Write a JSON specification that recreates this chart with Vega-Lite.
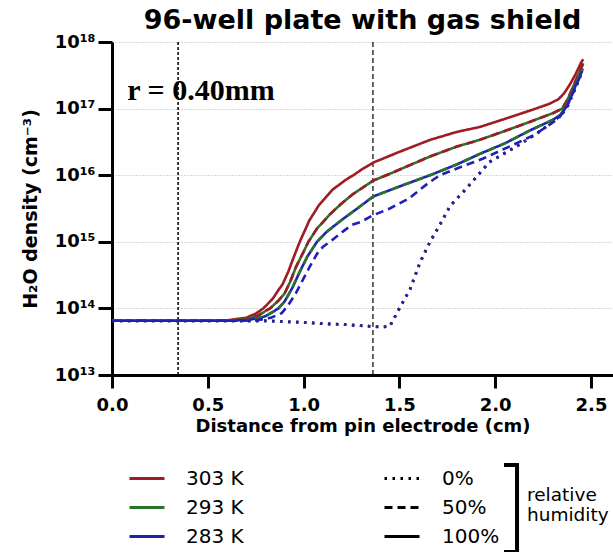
{
"$schema": "https://vega.github.io/schema/vega-lite/v6.json",
"width": 501,
"height": 333,
"autosize": {"type": "none"},
"padding": {"left": 112, "top": 42, "right": 0, "bottom": 177},
"background": "white",
"title": {"text": "96-well plate with gas shield", "font": "DejaVu Sans", "fontSize": 27, "fontWeight": "bold", "color": "black", "anchor": "middle", "baseline": "alphabetic", "offset": 13, "dy": 36},
"config": {
  "view": {"stroke": null},
  "legend": {"labelFont": "DejaVu Sans", "labelFontSize": 20, "labelColor": "black", "padding": 0, "titlePadding": 0}
},
"layer": [
  {"data": {"values": [{}]}, "mark": {"type": "rule", "color": "black", "strokeWidth": 1.5, "strokeDash": [3, 2]}, "encoding": {"x": {"datum": 0.345, "type": "quantitative"}}},
  {"data": {"values": [{}]}, "mark": {"type": "rule", "color": "black", "strokeWidth": 1.2, "strokeDash": [5, 3]}, "encoding": {"x": {"datum": 1.362, "type": "quantitative"}}},
  {"data": {"values": [{}]}, "mark": {"type": "text", "text": "r = 0.40mm", "font": "Liberation Serif", "fontSize": 30, "fontWeight": "bold", "align": "left", "baseline": "alphabetic", "color": "black"}, "encoding": {"x": {"datum": 0.08, "type": "quantitative"}, "y": {"datum": 1.35e17, "type": "quantitative"}}},
  {
    "data": {"values": [
{"d":0,"n":6.53e13,"T":"303 K","rh":"100%"},{"d":0.5,"n":6.53e13,"T":"303 K","rh":"100%"},{"d":0.6,"n":6.61e13,"T":"303 K","rh":"100%"},{"d":0.7,"n":7.24e13,"T":"303 K","rh":"100%"},{"d":0.75,"n":8.32e13,"T":"303 K","rh":"100%"},{"d":0.79,"n":1.0e14,"T":"303 K","rh":"100%"},{"d":0.84,"n":1.41e14,"T":"303 K","rh":"100%"},{"d":0.87,"n":1.91e14,"T":"303 K","rh":"100%"},{"d":0.89,"n":2.29e14,"T":"303 K","rh":"100%"},{"d":0.92,"n":3.55e14,"T":"303 K","rh":"100%"},{"d":0.95,"n":6.03e14,"T":"303 K","rh":"100%"},{"d":0.98,"n":1.0e15,"T":"303 K","rh":"100%"},{"d":1.03,"n":2.09e15,"T":"303 K","rh":"100%"},{"d":1.08,"n":3.55e15,"T":"303 K","rh":"100%"},{"d":1.15,"n":6.03e15,"T":"303 K","rh":"100%"},{"d":1.22,"n":8.51e15,"T":"303 K","rh":"100%"},{"d":1.26,"n":1.0e16,"T":"303 K","rh":"100%"},{"d":1.3,"n":1.2e16,"T":"303 K","rh":"100%"},{"d":1.364,"n":1.55e16,"T":"303 K","rh":"100%"},{"d":1.5,"n":2.24e16,"T":"303 K","rh":"100%"},{"d":1.66,"n":3.39e16,"T":"303 K","rh":"100%"},{"d":1.8,"n":4.47e16,"T":"303 K","rh":"100%"},{"d":1.92,"n":5.3e16,"T":"303 K","rh":"100%"},{"d":2.05,"n":7.0e16,"T":"303 K","rh":"100%"},{"d":2.18,"n":9.3e16,"T":"303 K","rh":"100%"},{"d":2.28,"n":1.17e17,"T":"303 K","rh":"100%"},{"d":2.33,"n":1.38e17,"T":"303 K","rh":"100%"},{"d":2.36,"n":1.7e17,"T":"303 K","rh":"100%"},{"d":2.39,"n":2.3e17,"T":"303 K","rh":"100%"},{"d":2.42,"n":3.3e17,"T":"303 K","rh":"100%"},{"d":2.45,"n":5.01e17,"T":"303 K","rh":"100%"},{"d":2.46,"n":5.5e17,"T":"303 K","rh":"100%"},
{"d":0,"n":6.53e13,"T":"293 K","rh":"100%"},{"d":0.6,"n":6.53e13,"T":"293 K","rh":"100%"},{"d":0.7,"n":6.92e13,"T":"293 K","rh":"100%"},{"d":0.76,"n":7.76e13,"T":"293 K","rh":"100%"},{"d":0.825,"n":1.0e14,"T":"293 K","rh":"100%"},{"d":0.87,"n":1.32e14,"T":"293 K","rh":"100%"},{"d":0.9,"n":1.66e14,"T":"293 K","rh":"100%"},{"d":0.93,"n":2.51e14,"T":"293 K","rh":"100%"},{"d":0.96,"n":4.17e14,"T":"293 K","rh":"100%"},{"d":1.0,"n":7.08e14,"T":"293 K","rh":"100%"},{"d":1.025,"n":1.0e15,"T":"293 K","rh":"100%"},{"d":1.07,"n":1.58e15,"T":"293 K","rh":"100%"},{"d":1.14,"n":2.63e15,"T":"293 K","rh":"100%"},{"d":1.2,"n":3.8e15,"T":"293 K","rh":"100%"},{"d":1.26,"n":5.25e15,"T":"293 K","rh":"100%"},{"d":1.364,"n":8.32e15,"T":"293 K","rh":"100%"},{"d":1.45,"n":1.05e16,"T":"293 K","rh":"100%"},{"d":1.66,"n":1.91e16,"T":"293 K","rh":"100%"},{"d":1.8,"n":2.69e16,"T":"293 K","rh":"100%"},{"d":1.92,"n":3.4e16,"T":"293 K","rh":"100%"},{"d":2.05,"n":4.6e16,"T":"293 K","rh":"100%"},{"d":2.18,"n":6.31e16,"T":"293 K","rh":"100%"},{"d":2.3,"n":8.51e16,"T":"293 K","rh":"100%"},{"d":2.35,"n":1.0e17,"T":"293 K","rh":"100%"},{"d":2.38,"n":1.41e17,"T":"293 K","rh":"100%"},{"d":2.41,"n":2.24e17,"T":"293 K","rh":"100%"},{"d":2.44,"n":3.55e17,"T":"293 K","rh":"100%"},{"d":2.46,"n":4.79e17,"T":"293 K","rh":"100%"},
{"d":0,"n":6.53e13,"T":"283 K","rh":"100%"},{"d":0.62,"n":6.53e13,"T":"283 K","rh":"100%"},{"d":0.72,"n":6.76e13,"T":"283 K","rh":"100%"},{"d":0.8,"n":7.59e13,"T":"283 K","rh":"100%"},{"d":0.869,"n":1.0e14,"T":"283 K","rh":"100%"},{"d":0.9,"n":1.26e14,"T":"283 K","rh":"100%"},{"d":0.94,"n":2.0e14,"T":"283 K","rh":"100%"},{"d":0.98,"n":3.55e14,"T":"283 K","rh":"100%"},{"d":1.02,"n":6.03e14,"T":"283 K","rh":"100%"},{"d":1.07,"n":1.0e15,"T":"283 K","rh":"100%"},{"d":1.12,"n":1.41e15,"T":"283 K","rh":"100%"},{"d":1.2,"n":2.14e15,"T":"283 K","rh":"100%"},{"d":1.28,"n":3.16e15,"T":"283 K","rh":"100%"},{"d":1.364,"n":4.79e15,"T":"283 K","rh":"100%"},{"d":1.5,"n":6.76e15,"T":"283 K","rh":"100%"},{"d":1.66,"n":1.0e16,"T":"283 K","rh":"100%"},{"d":1.8,"n":1.45e16,"T":"283 K","rh":"100%"},{"d":1.92,"n":2.09e16,"T":"283 K","rh":"100%"},{"d":2.05,"n":3.0e16,"T":"283 K","rh":"100%"},{"d":2.18,"n":4.68e16,"T":"283 K","rh":"100%"},{"d":2.3,"n":6.76e16,"T":"283 K","rh":"100%"},{"d":2.34,"n":8.0e16,"T":"283 K","rh":"100%"},{"d":2.37,"n":1.05e17,"T":"283 K","rh":"100%"},{"d":2.4,"n":1.6e17,"T":"283 K","rh":"100%"},{"d":2.43,"n":2.6e17,"T":"283 K","rh":"100%"},{"d":2.455,"n":3.7e17,"T":"283 K","rh":"100%"},
{"d":0,"n":6.53e13,"T":"303 K","rh":"50%"},{"d":0.6,"n":6.53e13,"T":"303 K","rh":"50%"},{"d":0.7,"n":6.92e13,"T":"303 K","rh":"50%"},{"d":0.76,"n":7.76e13,"T":"303 K","rh":"50%"},{"d":0.825,"n":1.0e14,"T":"303 K","rh":"50%"},{"d":0.87,"n":1.32e14,"T":"303 K","rh":"50%"},{"d":0.9,"n":1.66e14,"T":"303 K","rh":"50%"},{"d":0.93,"n":2.51e14,"T":"303 K","rh":"50%"},{"d":0.96,"n":4.17e14,"T":"303 K","rh":"50%"},{"d":1.0,"n":7.08e14,"T":"303 K","rh":"50%"},{"d":1.025,"n":1.0e15,"T":"303 K","rh":"50%"},{"d":1.07,"n":1.58e15,"T":"303 K","rh":"50%"},{"d":1.14,"n":2.63e15,"T":"303 K","rh":"50%"},{"d":1.2,"n":3.8e15,"T":"303 K","rh":"50%"},{"d":1.26,"n":5.25e15,"T":"303 K","rh":"50%"},{"d":1.364,"n":8.32e15,"T":"303 K","rh":"50%"},{"d":1.45,"n":1.05e16,"T":"303 K","rh":"50%"},{"d":1.66,"n":1.91e16,"T":"303 K","rh":"50%"},{"d":1.8,"n":2.69e16,"T":"303 K","rh":"50%"},{"d":1.92,"n":3.4e16,"T":"303 K","rh":"50%"},{"d":2.05,"n":4.6e16,"T":"303 K","rh":"50%"},{"d":2.18,"n":6.31e16,"T":"303 K","rh":"50%"},{"d":2.3,"n":8.51e16,"T":"303 K","rh":"50%"},{"d":2.35,"n":1.0e17,"T":"303 K","rh":"50%"},{"d":2.38,"n":1.41e17,"T":"303 K","rh":"50%"},{"d":2.41,"n":2.24e17,"T":"303 K","rh":"50%"},{"d":2.44,"n":3.55e17,"T":"303 K","rh":"50%"},{"d":2.46,"n":4.9e17,"T":"303 K","rh":"50%"},
{"d":0,"n":6.53e13,"T":"293 K","rh":"50%"},{"d":0.62,"n":6.53e13,"T":"293 K","rh":"50%"},{"d":0.72,"n":6.76e13,"T":"293 K","rh":"50%"},{"d":0.8,"n":7.59e13,"T":"293 K","rh":"50%"},{"d":0.869,"n":1.0e14,"T":"293 K","rh":"50%"},{"d":0.9,"n":1.26e14,"T":"293 K","rh":"50%"},{"d":0.94,"n":2.0e14,"T":"293 K","rh":"50%"},{"d":0.98,"n":3.55e14,"T":"293 K","rh":"50%"},{"d":1.02,"n":6.03e14,"T":"293 K","rh":"50%"},{"d":1.07,"n":1.0e15,"T":"293 K","rh":"50%"},{"d":1.12,"n":1.41e15,"T":"293 K","rh":"50%"},{"d":1.2,"n":2.14e15,"T":"293 K","rh":"50%"},{"d":1.28,"n":3.16e15,"T":"293 K","rh":"50%"},{"d":1.364,"n":4.79e15,"T":"293 K","rh":"50%"},{"d":1.5,"n":6.76e15,"T":"293 K","rh":"50%"},{"d":1.66,"n":1.0e16,"T":"293 K","rh":"50%"},{"d":1.8,"n":1.45e16,"T":"293 K","rh":"50%"},{"d":1.92,"n":2.09e16,"T":"293 K","rh":"50%"},{"d":2.05,"n":3.0e16,"T":"293 K","rh":"50%"},{"d":2.18,"n":4.68e16,"T":"293 K","rh":"50%"},{"d":2.3,"n":6.76e16,"T":"293 K","rh":"50%"},{"d":2.34,"n":8.0e16,"T":"293 K","rh":"50%"},{"d":2.37,"n":1.1e17,"T":"293 K","rh":"50%"},{"d":2.4,"n":1.7e17,"T":"293 K","rh":"50%"},{"d":2.43,"n":2.7e17,"T":"293 K","rh":"50%"},{"d":2.455,"n":3.9e17,"T":"293 K","rh":"50%"},
{"d":0,"n":6.53e13,"T":"283 K","rh":"50%"},{"d":0.65,"n":6.53e13,"T":"283 K","rh":"50%"},{"d":0.75,"n":6.61e13,"T":"283 K","rh":"50%"},{"d":0.83,"n":7.24e13,"T":"283 K","rh":"50%"},{"d":0.886,"n":8.51e13,"T":"283 K","rh":"50%"},{"d":0.92,"n":1.12e14,"T":"283 K","rh":"50%"},{"d":0.96,"n":1.7e14,"T":"283 K","rh":"50%"},{"d":1.0,"n":2.82e14,"T":"283 K","rh":"50%"},{"d":1.033,"n":4.27e14,"T":"283 K","rh":"50%"},{"d":1.07,"n":6.61e14,"T":"283 K","rh":"50%"},{"d":1.103,"n":8.51e14,"T":"283 K","rh":"50%"},{"d":1.138,"n":1.0e15,"T":"283 K","rh":"50%"},{"d":1.19,"n":1.32e15,"T":"283 K","rh":"50%"},{"d":1.25,"n":1.78e15,"T":"283 K","rh":"50%"},{"d":1.3,"n":2.0e15,"T":"283 K","rh":"50%"},{"d":1.364,"n":2.51e15,"T":"283 K","rh":"50%"},{"d":1.45,"n":3.16e15,"T":"283 K","rh":"50%"},{"d":1.55,"n":4.47e15,"T":"283 K","rh":"50%"},{"d":1.65,"n":7.59e15,"T":"283 K","rh":"50%"},{"d":1.712,"n":1.0e16,"T":"283 K","rh":"50%"},{"d":1.8,"n":1.26e16,"T":"283 K","rh":"50%"},{"d":1.938,"n":1.78e16,"T":"283 K","rh":"50%"},{"d":2.02,"n":2.29e16,"T":"283 K","rh":"50%"},{"d":2.112,"n":3.02e16,"T":"283 K","rh":"50%"},{"d":2.2,"n":3.98e16,"T":"283 K","rh":"50%"},{"d":2.27,"n":5.37e16,"T":"283 K","rh":"50%"},{"d":2.33,"n":7.08e16,"T":"283 K","rh":"50%"},{"d":2.37,"n":1.0e17,"T":"283 K","rh":"50%"},{"d":2.4,"n":1.58e17,"T":"283 K","rh":"50%"},{"d":2.43,"n":2.51e17,"T":"283 K","rh":"50%"},{"d":2.455,"n":3.55e17,"T":"283 K","rh":"50%"},
{"d":0,"n":6.53e13,"T":"303 K","rh":"0%"},{"d":0.8,"n":6.53e13,"T":"303 K","rh":"0%"},{"d":0.9,"n":6.31e13,"T":"303 K","rh":"0%"},{"d":1.0,"n":6.17e13,"T":"303 K","rh":"0%"},{"d":1.1,"n":5.89e13,"T":"303 K","rh":"0%"},{"d":1.2,"n":5.75e13,"T":"303 K","rh":"0%"},{"d":1.3,"n":5.5e13,"T":"303 K","rh":"0%"},{"d":1.4,"n":5.25e13,"T":"303 K","rh":"0%"},{"d":1.45,"n":5.37e13,"T":"303 K","rh":"0%"},{"d":1.5,"n":1.0e14,"T":"303 K","rh":"0%"},{"d":1.556,"n":1.95e14,"T":"303 K","rh":"0%"},{"d":1.608,"n":4.9e14,"T":"303 K","rh":"0%"},{"d":1.66,"n":1.0e15,"T":"303 K","rh":"0%"},{"d":1.72,"n":2.0e15,"T":"303 K","rh":"0%"},{"d":1.765,"n":3.47e15,"T":"303 K","rh":"0%"},{"d":1.85,"n":6.31e15,"T":"303 K","rh":"0%"},{"d":1.97,"n":1.58e16,"T":"303 K","rh":"0%"},{"d":2.11,"n":2.69e16,"T":"303 K","rh":"0%"},{"d":2.22,"n":4.27e16,"T":"303 K","rh":"0%"},{"d":2.3,"n":6.31e16,"T":"303 K","rh":"0%"},{"d":2.35,"n":8.32e16,"T":"303 K","rh":"0%"},{"d":2.38,"n":1.12e17,"T":"303 K","rh":"0%"},{"d":2.41,"n":1.78e17,"T":"303 K","rh":"0%"},{"d":2.44,"n":2.82e17,"T":"303 K","rh":"0%"},{"d":2.455,"n":3.98e17,"T":"303 K","rh":"0%"},
{"d":0,"n":6.53e13,"T":"293 K","rh":"0%"},{"d":0.8,"n":6.53e13,"T":"293 K","rh":"0%"},{"d":0.9,"n":6.31e13,"T":"293 K","rh":"0%"},{"d":1.0,"n":6.17e13,"T":"293 K","rh":"0%"},{"d":1.1,"n":5.89e13,"T":"293 K","rh":"0%"},{"d":1.2,"n":5.75e13,"T":"293 K","rh":"0%"},{"d":1.3,"n":5.5e13,"T":"293 K","rh":"0%"},{"d":1.4,"n":5.25e13,"T":"293 K","rh":"0%"},{"d":1.45,"n":5.37e13,"T":"293 K","rh":"0%"},{"d":1.5,"n":1.0e14,"T":"293 K","rh":"0%"},{"d":1.556,"n":1.95e14,"T":"293 K","rh":"0%"},{"d":1.608,"n":4.9e14,"T":"293 K","rh":"0%"},{"d":1.66,"n":1.0e15,"T":"293 K","rh":"0%"},{"d":1.72,"n":2.0e15,"T":"293 K","rh":"0%"},{"d":1.765,"n":3.47e15,"T":"293 K","rh":"0%"},{"d":1.85,"n":6.31e15,"T":"293 K","rh":"0%"},{"d":1.97,"n":1.58e16,"T":"293 K","rh":"0%"},{"d":2.11,"n":2.69e16,"T":"293 K","rh":"0%"},{"d":2.22,"n":4.27e16,"T":"293 K","rh":"0%"},{"d":2.3,"n":6.31e16,"T":"293 K","rh":"0%"},{"d":2.35,"n":8.32e16,"T":"293 K","rh":"0%"},{"d":2.38,"n":1.12e17,"T":"293 K","rh":"0%"},{"d":2.41,"n":1.78e17,"T":"293 K","rh":"0%"},{"d":2.44,"n":2.82e17,"T":"293 K","rh":"0%"},{"d":2.455,"n":3.98e17,"T":"293 K","rh":"0%"},
{"d":0,"n":6.53e13,"T":"283 K","rh":"0%"},{"d":0.8,"n":6.53e13,"T":"283 K","rh":"0%"},{"d":0.9,"n":6.31e13,"T":"283 K","rh":"0%"},{"d":1.0,"n":6.17e13,"T":"283 K","rh":"0%"},{"d":1.1,"n":5.89e13,"T":"283 K","rh":"0%"},{"d":1.2,"n":5.75e13,"T":"283 K","rh":"0%"},{"d":1.3,"n":5.5e13,"T":"283 K","rh":"0%"},{"d":1.4,"n":5.25e13,"T":"283 K","rh":"0%"},{"d":1.45,"n":5.37e13,"T":"283 K","rh":"0%"},{"d":1.5,"n":1.0e14,"T":"283 K","rh":"0%"},{"d":1.556,"n":1.95e14,"T":"283 K","rh":"0%"},{"d":1.608,"n":4.9e14,"T":"283 K","rh":"0%"},{"d":1.66,"n":1.0e15,"T":"283 K","rh":"0%"},{"d":1.72,"n":2.0e15,"T":"283 K","rh":"0%"},{"d":1.765,"n":3.47e15,"T":"283 K","rh":"0%"},{"d":1.85,"n":6.31e15,"T":"283 K","rh":"0%"},{"d":1.97,"n":1.58e16,"T":"283 K","rh":"0%"},{"d":2.11,"n":2.69e16,"T":"283 K","rh":"0%"},{"d":2.22,"n":4.27e16,"T":"283 K","rh":"0%"},{"d":2.3,"n":6.31e16,"T":"283 K","rh":"0%"},{"d":2.35,"n":8.32e16,"T":"283 K","rh":"0%"},{"d":2.38,"n":1.12e17,"T":"283 K","rh":"0%"},{"d":2.41,"n":1.78e17,"T":"283 K","rh":"0%"},{"d":2.44,"n":2.82e17,"T":"283 K","rh":"0%"},{"d":2.455,"n":3.98e17,"T":"283 K","rh":"0%"}
    ]},
    "encoding": {
      "x": {"field": "d", "type": "quantitative", "scale": {"domain": [0, 2.615], "nice": false, "zero": false},
        "axis": {"title": "Distance from pin electrode (cm)", "values": [0, 0.5, 1, 1.5, 2, 2.5], "format": ".1f", "grid": false, "domainColor": "black", "domainWidth": 3, "tickColor": "black", "tickWidth": 3, "tickSize": 13, "labelFont": "DejaVu Sans", "labelFontSize": 18, "labelFontWeight": "bold", "labelColor": "black", "labelPadding": 8, "labelFlush": false, "titleFont": "DejaVu Sans", "titleFontSize": 18, "titleFontWeight": "bold", "titleColor": "black", "titlePadding": 3}},
      "y": {"field": "n", "type": "quantitative", "scale": {"type": "log", "domain": [1e13, 1e18], "nice": false},
        "axis": {"title": "H₂O density (cm⁻³)", "values": [1e13, 1e14, 1e15, 1e16, 1e17, 1e18], "labelExpr": "'10' + ['¹³','¹⁴','¹⁵','¹⁶','¹⁷','¹⁸'][round(log(datum.value)/LN10)-13]", "grid": true, "gridColor": "#b5b5b5", "gridDash": [1, 2], "gridWidth": 1, "domainColor": "black", "domainWidth": 3, "tickColor": "black", "tickWidth": 3, "tickSize": 14, "labelFont": "DejaVu Sans", "labelFontSize": 18, "labelFontWeight": "bold", "labelColor": "black", "labelPadding": 3, "labelFlush": false, "titleFont": "DejaVu Sans", "titleFontSize": 19, "titleFontWeight": "bold", "titleColor": "black", "titlePadding": 14}},
      "color": {"field": "T", "type": "nominal", "scale": {"domain": ["303 K", "293 K", "283 K"], "range": ["#a01c24", "#2a742a", "#2020b8"]},
        "legend": {"title": null, "orient": "none", "legendX": 16, "legendY": 417.5, "direction": "vertical", "symbolType": "stroke", "symbolSize": 1225, "symbolStrokeWidth": 3, "rowPadding": -5.5, "labelOffset": 20}},
      "strokeDash": {"field": "rh", "type": "nominal", "scale": {"domain": ["0%", "50%", "100%"], "range": [[2.5, 5.5], [8, 5], [1, 0]]},
        "legend": {"title": null, "orient": "none", "legendX": 271, "legendY": 417.5, "direction": "vertical", "symbolType": "stroke", "symbolSize": 1225, "symbolStrokeWidth": 3, "symbolStrokeColor": "black", "rowPadding": -5.5, "labelOffset": 21}}
    },
    "layer": [
      {"transform": [{"filter": "datum.rh === '0%'"}], "mark": {"type": "line", "strokeWidth": 2.8}},
      {"transform": [{"filter": "datum.rh === '100%'"}], "mark": {"type": "line", "strokeWidth": 2.6}},
      {"transform": [{"filter": "datum.rh === '50%'"}], "mark": {"type": "line", "strokeWidth": 2.6}}
    ]
  },
  {
    "data": {"values": [{"g": "relative humidity"}]},
    "mark": {"type": "point", "filled": false, "opacity": 0},
    "encoding": {
      "shape": {"field": "g", "type": "nominal", "scale": {"range": ["M-0.15,-0.68H0.15V1.32H-0.15"]},
        "legend": {"title": null, "orient": "none", "legendX": 353, "legendY": 407, "symbolSize": 7569, "symbolStrokeWidth": 4, "symbolStrokeColor": "black", "symbolFillColor": "transparent", "symbolOpacity": 1, "labelExpr": "['relative','humidity']", "labelFontSize": 18.5, "labelOffset": -29, "labelLimit": 300}}
    }
  }
]
}
